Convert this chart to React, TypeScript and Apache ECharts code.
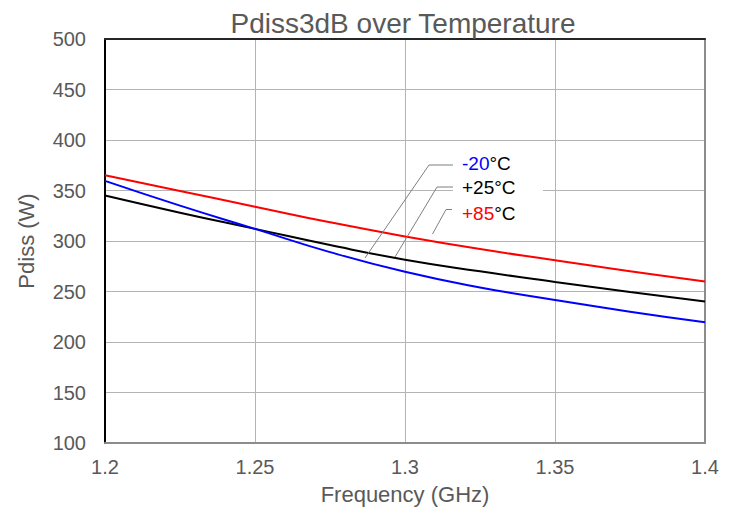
import React, { useEffect, useRef } from "react";
import * as echarts from "echarts";

const freqs = [1.2, 1.225, 1.25, 1.275, 1.3, 1.325, 1.35, 1.375, 1.4];
const minus20 = [359.5, 335, 312, 289, 269.5, 254, 241.5, 230, 219.5];
const plus25 = [345, 328, 312, 296, 281.5, 270, 259.5, 249.5, 240];
const plus85 = [365, 349.5, 334, 318.5, 304.5, 292, 281, 270, 260];
const xTickLabels = ["1.2", "1.25", "1.3", "1.35", "1.4"];
const seriesNames = ["-20°C", "+25°C", "+85°C"];

const FONT = "'Liberation Sans', Arial, sans-serif";
const TXT = "#595959";

export default function App() {
  const ref = useRef<HTMLDivElement>(null);
  useEffect(() => {
    if (!ref.current) return;
    const chart = echarts.init(ref.current, null, { renderer: "svg" });
    const pairs = (vals: number[]) => freqs.map((f, i) => [f, vals[i]]);
    const mkSeries = (name: string, vals: number[], color: string) => ({
      name,
      type: "line",
      data: pairs(vals),
      smooth: true,
      symbol: "none",
      lineStyle: { color, width: 2 },
      itemStyle: { color },
      z: 5,
    });
    const gridColor = "#b4b4b4";
    chart.setOption({
      animation: false,
      backgroundColor: "#ffffff",
      textStyle: { fontFamily: FONT },
      title: {
        text: "Pdiss3dB over Temperature",
        left: 398,
        top: 4,
        textAlign: "center",
        textStyle: { fontFamily: FONT, fontSize: 28, fontWeight: "normal", color: TXT },
      },
      grid: { left: 105, right: 32, top: 39, bottom: 67 },
      xAxis: [
        {
          type: "value",
          min: 1.2,
          max: 1.4,
          interval: 0.05,
          name: "Frequency (GHz)",
          nameLocation: "middle",
          nameGap: 40,
          nameTextStyle: { fontFamily: FONT, fontSize: 22, color: TXT },
          axisLine: { show: true, lineStyle: { color: "#8c8c8c", width: 2 } },
          axisTick: { show: false },
          axisLabel: {
            fontFamily: FONT,
            fontSize: 20,
            color: TXT,
            margin: 14,
            formatter: (v: number) => xTickLabels[Math.round((v - 1.2) / 0.05)] ?? "",
          },
          splitLine: { show: true, lineStyle: { color: gridColor, width: 1 } },
        },
        {
          type: "value",
          position: "top",
          min: 1.2,
          max: 1.4,
          interval: 0.05,
          axisLine: { show: true, lineStyle: { color: "#262626", width: 2 } },
          axisTick: { show: false },
          axisLabel: { show: false },
          splitLine: { show: false },
        },
      ],
      yAxis: [
        {
          type: "value",
          min: 100,
          max: 500,
          interval: 50,
          name: "Pdiss (W)",
          nameLocation: "middle",
          nameRotate: 90,
          nameGap: 68,
          nameTextStyle: { fontFamily: FONT, fontSize: 22, color: TXT },
          axisLine: { show: true, lineStyle: { color: "#000000", width: 2 } },
          axisTick: { show: false },
          axisLabel: { fontFamily: FONT, fontSize: 20, color: TXT, margin: 19 },
          splitLine: { show: true, lineStyle: { color: gridColor, width: 1 } },
        },
        {
          type: "value",
          position: "right",
          min: 100,
          max: 500,
          interval: 50,
          axisLine: { show: true, lineStyle: { color: "#8c8c8c", width: 2 } },
          axisTick: { show: false },
          axisLabel: { show: false },
          splitLine: { show: false },
        },
      ],
      series: [
        mkSeries(seriesNames[2], plus85, "#ff0000"),
        mkSeries(seriesNames[1], plus25, "#000000"),
        mkSeries(seriesNames[0], minus20, "#0000ff"),
      ],
      graphic: [
        {
          type: "rect",
          shape: { x: 453, y: 152, width: 90, height: 73 },
          style: { fill: "#ffffff" },
          z: 10,
        },
        {
          type: "polyline",
          shape: { points: [[453, 165], [429, 165], [365, 258]] },
          style: { stroke: "#7f7f7f", lineWidth: 1, fill: null },
          z: 11,
        },
        {
          type: "polyline",
          shape: { points: [[453, 187], [437, 187], [395, 257]] },
          style: { stroke: "#7f7f7f", lineWidth: 1, fill: null },
          z: 11,
        },
        {
          type: "polyline",
          shape: { points: [[452, 209.5], [446, 209.5], [432.5, 234]] },
          style: { stroke: "#7f7f7f", lineWidth: 1, fill: null },
          z: 11,
        },
        {
          type: "text",
          x: 462,
          y: 163.5,
          z: 12,
          style: {
            text: "{b|-20}{k|°C}",
            verticalAlign: "middle",
            rich: {
              b: { fontFamily: FONT, fontSize: 19, fill: "#0000ff", color: "#0000ff" },
              k: { fontFamily: FONT, fontSize: 19, fill: "#000000", color: "#000000" },
            },
          },
        },
        {
          type: "text",
          x: 462,
          y: 187,
          z: 12,
          style: {
            text: "{k|+25°C}",
            verticalAlign: "middle",
            rich: {
              k: { fontFamily: FONT, fontSize: 19, fill: "#000000", color: "#000000" },
            },
          },
        },
        {
          type: "text",
          x: 462,
          y: 213.5,
          z: 12,
          style: {
            text: "{r|+85}{k|°C}",
            verticalAlign: "middle",
            rich: {
              r: { fontFamily: FONT, fontSize: 19, fill: "#ff0000", color: "#ff0000" },
              k: { fontFamily: FONT, fontSize: 19, fill: "#000000", color: "#000000" },
            },
          },
        },
      ],
    });
    return () => chart.dispose();
  }, []);
  return (
    <div
      ref={ref}
      style={{ position: "fixed", left: 0, top: 0, width: 737, height: 510, background: "#fff" }}
    />
  );
}
